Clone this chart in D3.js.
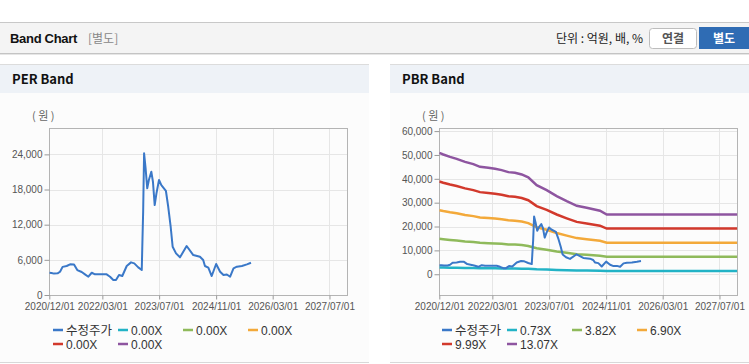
<!DOCTYPE html>
<html><head><meta charset="utf-8">
<script src="https://cdn.jsdelivr.net/npm/d3@7"></script>
<style>
html,body{margin:0;padding:0;background:#fff;}
svg{display:block;font-family:"Liberation Sans",Arial,"Noto Sans CJK KR",sans-serif;}
</style></head><body>
<script>
// ---- data ----
const priceDates = ["2020-12-01","2020-12-20","2021-01-10","2021-02-10","2021-03-03","2021-03-25","2021-04-29","2021-05-28","2021-07-01","2021-07-29","2021-09-05","2021-10-03","2021-11-01","2021-11-30","2021-12-28","2022-02-23","2022-04-07","2022-05-06","2022-06-03","2022-06-26","2022-07-22","2022-08-19","2022-09-26","2022-11-02","2022-11-30","2023-01-03","2023-02-02","2023-02-08","2023-02-14","2023-02-22","2023-03-07","2023-03-21","2023-04-04","2023-04-25","2023-05-09","2023-05-24","2023-06-08","2023-06-30","2023-07-20","2023-08-28","2023-09-17","2023-10-08","2023-10-25","2023-11-23","2023-12-27","2024-02-22","2024-04-19","2024-06-15","2024-07-13","2024-07-28","2024-08-26","2024-09-24","2024-11-01","2024-12-05","2025-01-03","2025-02-01","2025-03-01","2025-03-30","2025-04-28","2025-06-10","2025-07-23","2025-08-27"];
const priceValues = [3800,3750,3650,3700,3970,4800,4950,5230,5200,4260,3920,3530,3120,3800,3530,3530,3530,3120,2560,2560,3410,3240,4950,5570,5400,4720,4260,9380,14200,24170,21610,18200,19620,21040,19330,15350,17350,19620,18760,17790,15060,11650,8240,7110,6430,8360,6820,6530,5970,4950,4660,3240,5290,3980,3410,3500,3120,4550,4830,4950,5230,5510];

const bpsDates = ["2020-12-01","2021-01-04","2021-03-03","2021-04-29","2021-07-10","2021-09-19","2021-11-15","2022-01-25","2022-03-24","2022-05-20","2022-07-16","2022-09-11","2022-11-08","2023-01-03","2023-03-16","2023-06-10","2023-09-04","2023-11-29","2024-02-23","2024-05-18","2024-09-09","2024-11-06","2027-12-01"];
const bpsValues = [3893,3841,3764,3701,3604,3531,3445,3412,3380,3339,3275,3252,3201,3106,2858,2699,2507,2347,2196,2132,2036,1915,1915];

const pbrMultiples = [0.73,3.82,6.90,9.99,13.07];
const perMultiples = [0.00,0.00,0.00,0.00,0.00];
const bandColors = ["#22b3c6","#8fba5b","#f3a93a","#d2392c","#8e55a0"];
const priceColor = "#3a78c8";
const priceLabel = "수정주가";

const xTickDates = ["2020-12-01","2022-03-01","2023-07-01","2024-11-01","2026-03-01","2027-07-01"];
const xDomain = ["2020-12-01","2027-12-01"];
const perYTicks = [0,6000,12000,18000,24000];
const perYDomain = [0,28500];
const pbrYTicks = [0,10000,20000,30000,40000,50000,60000];
const pbrYDomain = [-8700,61300];

// ---- drawing ----
const parse = d3.timeParse("%Y-%m-%d");
const fmtTick = d3.timeFormat("%Y/%m/%d");
const W = 749, H = 364;
const svg = d3.select("body").append("svg").attr("width",W).attr("height",H);

// top header
svg.append("rect").attr("x",0).attr("y",22).attr("width",W).attr("height",31).attr("fill","#f4f4f4");
svg.append("line").attr("x1",0).attr("x2",W).attr("y1",22.5).attr("y2",22.5).attr("stroke","#c8c8c8");
svg.append("line").attr("x1",0).attr("x2",W).attr("y1",53.5).attr("y2",53.5).attr("stroke","#c4c4c4");
svg.append("line").attr("x1",0).attr("x2",W).attr("y1",54.5).attr("y2",54.5).attr("stroke","#e6e6e6");
svg.append("text").attr("x",10).attr("y",43).attr("font-size",13).attr("font-weight","bold").attr("fill","#111")
  .attr("font-family","'Liberation Sans',Arial,sans-serif").attr("letter-spacing",-0.3).text("Band Chart");
svg.append("text").attr("x",88).attr("y",43).attr("font-size",12).attr("fill","#888")
  .attr("font-family","'Noto Sans CJK KR',sans-serif").text("[별도]");
svg.append("text").attr("x",643).attr("y",43).attr("text-anchor","end").attr("font-size",12).attr("fill","#222")
  .attr("font-family","'Noto Sans CJK KR',sans-serif").text("단위 : 억원, 배, %");
svg.append("rect").attr("x",649.5).attr("y",28.5).attr("width",47).attr("height",20).attr("rx",3)
  .attr("fill","#fff").attr("stroke","#bdbdbd");
svg.append("text").attr("x",673).attr("y",43).attr("text-anchor","middle").attr("font-size",12).attr("font-weight","bold")
  .attr("fill","#555").attr("font-family","'Noto Sans CJK KR',sans-serif").text("연결");
svg.append("rect").attr("x",699).attr("y",27).attr("width",50).attr("height",22).attr("fill","#2f6cb4");
svg.append("text").attr("x",724).attr("y",43).attr("text-anchor","middle").attr("font-size",12).attr("font-weight","bold")
  .attr("fill","#fff").attr("font-family","'Noto Sans CJK KR',sans-serif").text("별도");

function panel(x0, width, title){
  svg.append("rect").attr("x",x0).attr("y",64).attr("width",width).attr("height",299).attr("fill","#fcfcfc");
  svg.append("rect").attr("x",x0).attr("y",64).attr("width",width).attr("height",29).attr("fill","#eef2f7");
  svg.append("line").attr("x1",x0).attr("x2",x0+width).attr("y1",64.5).attr("y2",64.5).attr("stroke","#dcdcdc");
  svg.append("line").attr("x1",x0).attr("x2",x0+width).attr("y1",362.5).attr("y2",362.5).attr("stroke","#d8d8d8");
  svg.append("text").attr("x",x0+12).attr("y",84).attr("font-size",13).attr("font-weight","bold").attr("fill","#111")
    .attr("font-family","'Noto Sans CJK KR',sans-serif").text(title);
}
panel(0,369,"PER Band");
panel(390,359,"PBR Band");

function chart(opts){
  const {left,right,top,bottom,yDomain,yTicks,bands,multiples} = opts;
  const x = d3.scaleTime().domain(xDomain.map(parse)).range([left,right]);
  const y = d3.scaleLinear().domain(yDomain).range([bottom,top]);
  const g = svg.append("g");
  const xt = xTickDates.map(parse);
  // grid
  g.selectAll(".vg").data(xt.slice(1)).join("line")
    .attr("x1",d=>Math.round(x(d))+0.5).attr("x2",d=>Math.round(x(d))+0.5).attr("y1",top).attr("y2",bottom)
    .attr("stroke","#e6e6e6");
  g.selectAll(".hg").data(yTicks).join("line")
    .attr("x1",left).attr("x2",right).attr("y1",d=>Math.round(y(d))+0.5).attr("y2",d=>Math.round(y(d))+0.5)
    .attr("stroke","#e6e6e6");
  // frame
  g.append("rect").attr("x",Math.round(left)+0.5).attr("y",top+0.5).attr("width",Math.round(right-left)).attr("height",bottom-top)
    .attr("fill","none").attr("stroke","#b4b4b4");
  // axes
  const yAxis = d3.axisLeft(y).tickValues(yTicks).tickSize(5).tickPadding(2).tickFormat(d3.format(","));
  const ya = svg.append("g").attr("transform",`translate(${Math.round(left)+0.5},0)`).call(yAxis);
  ya.select(".domain").remove();
  ya.selectAll("line").attr("stroke","#999");
  ya.selectAll("text").attr("font-size",10).attr("fill","#555").attr("font-family","'Liberation Sans',Arial,sans-serif");
  const xAxis = d3.axisBottom(x).tickValues(xt).tickSize(4).tickPadding(3).tickFormat(fmtTick);
  const xa = svg.append("g").attr("transform",`translate(0,${bottom+0.5})`).call(xAxis);
  xa.select(".domain").remove();
  xa.selectAll("line").attr("stroke","#999");
  xa.selectAll("text").attr("font-size",10).attr("fill","#555").attr("font-family","'Liberation Sans',Arial,sans-serif");
  svg.append("text").attr("x",left-6).attr("y",top-8).attr("text-anchor","middle").attr("font-size",11).attr("fill","#666")
    .attr("font-family","'Noto Sans CJK KR',sans-serif").text("( 원 )");
  // bands
  const line = d3.line().x(d=>x(d[0])).y(d=>y(d[1]));
  const clipId = "clip"+Math.round(left);
  svg.append("clipPath").attr("id",clipId).append("rect").attr("x",left).attr("y",top).attr("width",right-left).attr("height",bottom-top);
  const cg = svg.append("g").attr("clip-path",`url(#${clipId})`);
  if(bands){
    multiples.forEach((m,i)=>{
      const pts = bpsDates.map((d,j)=>[parse(d), bpsValues[j]*m]);
      cg.append("path").attr("d",line(pts)).attr("fill","none").attr("stroke",bandColors[i]).attr("stroke-width",2.5);
    });
  }
  const pp = priceDates.map((d,j)=>[parse(d), priceValues[j]]);
  cg.append("path").attr("d",line(pp)).attr("fill","none").attr("stroke",priceColor).attr("stroke-width",2)
    .attr("stroke-linejoin","round");
  // legend
  const items = [{c:priceColor,t:priceLabel}].concat(multiples.map((m,i)=>({c:bandColors[i],t:m.toFixed(2)+"X"})));
  items.forEach((it,i)=>{
    const col = i%4, row = Math.floor(i/4);
    const lx = opts.legendX + col*65, ly = 330 + row*14;
    svg.append("line").attr("x1",lx).attr("x2",lx+10).attr("y1",ly).attr("y2",ly).attr("stroke",it.c).attr("stroke-width",2.5);
    svg.append("text").attr("x",lx+13).attr("y",ly+4.5).attr("font-size",i===0?12.5:12).attr("fill","#333")
      .attr("font-family","'Liberation Sans','Noto Sans CJK KR',sans-serif").text(it.t);
  });
}
chart({left:49.3,right:347.3,top:128,bottom:295,yDomain:perYDomain,yTicks:perYTicks,bands:false,multiples:perMultiples,legendX:53});
chart({left:439.3,right:737.3,top:128,bottom:295,yDomain:pbrYDomain,yTicks:pbrYTicks,bands:true,multiples:pbrMultiples,legendX:442});
</script>
</body></html>
